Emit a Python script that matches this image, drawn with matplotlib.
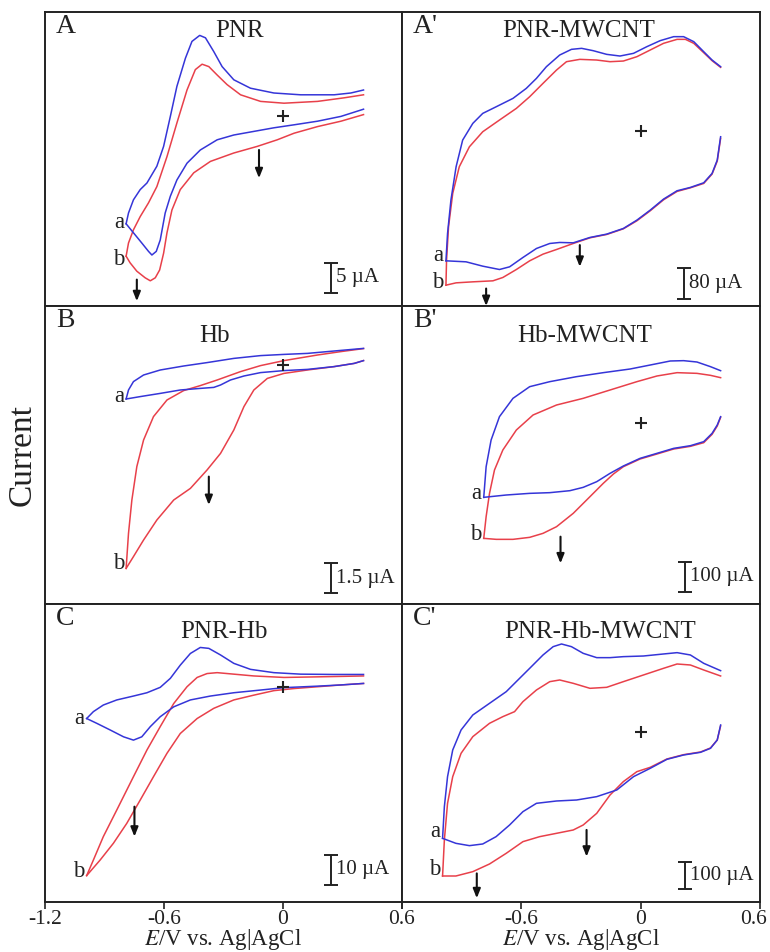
import matplotlib
matplotlib.use("Agg")
import matplotlib.pyplot as plt
from matplotlib.transforms import ScaledTranslation

plt.rcParams['font.family'] = ['Liberation Serif', 'DejaVu Serif']
plt.rcParams['mathtext.fontset'] = 'stix'

BLUE = '#3535d8'
RED = '#e8404a'
INK = '#222222'

# ---------------- A : PNR ----------------
pnr_a_up_E = [-0.791, -0.779, -0.754, -0.720, -0.686, -0.636, -0.602, -0.568, -0.535, -0.492, -0.459,
              -0.420, -0.391, -0.349, -0.307, -0.248, -0.164, -0.046, 0.089, 0.258, 0.342, 0.406]
pnr_a_up_I = [-17.9, -16.1, -13.9, -12.2, -11.1, -8.3, -5.0, 0.0, 5.0, 9.7, 12.5,
              13.5, 13.1, 10.8, 8.3, 6.1, 4.7, 3.9, 3.6, 3.6, 3.9, 4.4]
pnr_a_dn_E = [-0.791, -0.754, -0.712, -0.678, -0.661, -0.639, -0.619, -0.594, -0.568, -0.535, -0.484,
              -0.417, -0.332, -0.248, -0.147, -0.046, 0.056, 0.174, 0.292, 0.406]
pnr_a_dn_I = [-17.9, -19.4, -21.1, -22.5, -23.1, -22.5, -20.6, -16.1, -13.3, -10.6, -7.8,
              -5.6, -3.9, -3.1, -2.5, -1.9, -1.4, -0.8, 0.0, 1.2]
pnr_b_up_E = [-0.791, -0.779, -0.754, -0.720, -0.678, -0.636, -0.585, -0.535, -0.484, -0.442, -0.408,
              -0.374, -0.332, -0.282, -0.214, -0.113, 0.005, 0.174, 0.309, 0.406]
pnr_b_up_I = [-23.3, -21.1, -18.9, -16.7, -14.4, -11.7, -6.7, -1.1, 4.4, 7.8, 8.7,
              8.3, 6.9, 5.3, 3.6, 2.5, 2.2, 2.5, 3.1, 3.6]
pnr_b_dn_E = [-0.791, -0.771, -0.737, -0.695, -0.669, -0.644, -0.622, -0.602, -0.585, -0.560, -0.518,
              -0.450, -0.366, -0.248, -0.130, -0.029, 0.056, 0.174, 0.292, 0.406]
pnr_b_dn_I = [-23.3, -24.4, -25.8, -26.9, -27.4, -26.9, -25.6, -22.8, -19.4, -15.6, -12.2,
              -9.4, -7.5, -6.1, -5.0, -3.9, -2.8, -1.7, -0.8, 0.3]

# ---------------- A' : PNR-MWCNT ----------------
pnrc_a_up_E = [-0.979, -0.971, -0.954, -0.928, -0.895, -0.844, -0.794, -0.726, -0.642, -0.575, -0.524,
               -0.474, -0.407, -0.348, -0.297, -0.239, -0.171, -0.104, -0.036, 0.031, 0.098, 0.166,
               0.216, 0.267, 0.317, 0.359, 0.402]
pnrc_a_up_I = [-334.5, -264.0, -178.0, -92.0, -23.2, 19.8, 45.6, 62.8, 84.3, 110.1, 135.9,
               166.0, 196.1, 210.7, 213.3, 207.3, 197.8, 193.5, 200.4, 217.6, 233.1, 243.4,
               243.4, 230.5, 204.7, 183.2, 166.0]
pnrc_a_dn_E = [-0.979, -0.878, -0.794, -0.710, -0.659, -0.592, -0.524, -0.457, -0.407, -0.339, -0.255,
               -0.171, -0.087, -0.019, 0.048, 0.115, 0.183, 0.250, 0.317, 0.359, 0.385, 0.402]
pnrc_a_dn_I = [-334.5, -337.1, -348.3, -356.9, -350.0, -325.9, -302.7, -289.8, -287.2, -288.1, -274.3,
               -265.7, -251.1, -229.6, -203.8, -175.4, -153.9, -145.3, -133.3, -109.2, -74.8, -14.6]
pnrc_b_up_E = [-0.979, -0.976, -0.966, -0.945, -0.912, -0.861, -0.794, -0.710, -0.625, -0.558, -0.491,
               -0.423, -0.373, -0.306, -0.222, -0.154, -0.087, -0.019, 0.048, 0.115, 0.183, 0.225,
               0.267, 0.317, 0.359, 0.402]
pnrc_b_up_I = [-397.3, -332.8, -246.8, -160.8, -92.0, -40.4, -1.7, 28.4, 58.5, 88.6, 123.0,
               157.4, 178.9, 184.9, 183.2, 178.9, 180.6, 191.8, 209.0, 226.2, 236.5, 236.5,
               226.2, 202.1, 181.5, 164.3]
pnrc_b_dn_E = [-0.979, -0.928, -0.844, -0.743, -0.693, -0.625, -0.558, -0.491, -0.423, -0.339, -0.255,
               -0.171, -0.087, -0.019, 0.048, 0.115, 0.183, 0.250, 0.317, 0.359, 0.385, 0.402]
pnrc_b_dn_I = [-397.3, -391.3, -388.7, -386.1, -377.5, -356.9, -334.5, -317.3, -305.3, -289.8, -275.2,
               -266.6, -252.0, -231.3, -205.5, -177.2, -155.6, -146.2, -135.0, -110.9, -77.4, -18.9]

# ---------------- B : Hb ----------------
hb_a_up_E = [-0.791, -0.779, -0.754, -0.703, -0.619, -0.501, -0.383, -0.248, -0.113, 0.005, 0.123, 0.258, 0.406]
hb_a_up_I = [-1.70, -1.25, -0.83, -0.50, -0.25, -0.05, 0.12, 0.33, 0.47, 0.53, 0.58, 0.70, 0.83]
hb_a_dn_E = [-0.791, -0.720, -0.619, -0.518, -0.417, -0.349, -0.315, -0.265, -0.197, -0.113, 0.005,
             0.123, 0.258, 0.359, 0.406]
hb_a_dn_I = [-1.70, -1.58, -1.42, -1.25, -1.17, -1.12, -1.00, -0.75, -0.55, -0.38, -0.28,
             -0.22, -0.08, 0.08, 0.22]
hb_b_up_E = [-0.791, -0.779, -0.762, -0.737, -0.703, -0.653, -0.585, -0.501, -0.417, -0.332, -0.214,
             -0.113, 0.005, 0.174, 0.292, 0.406]
hb_b_up_I = [-10.17, -8.42, -6.75, -5.08, -3.75, -2.58, -1.75, -1.28, -1.03, -0.75, -0.33,
             -0.03, 0.22, 0.50, 0.67, 0.82]
hb_b_dn_E = [-0.791, -0.754, -0.703, -0.636, -0.551, -0.467, -0.383, -0.315, -0.248, -0.197, -0.147,
             -0.079, 0.005, 0.123, 0.258, 0.359, 0.406]
hb_b_dn_I = [-10.17, -9.58, -8.75, -7.75, -6.75, -6.17, -5.25, -4.42, -3.25, -2.08, -1.25,
             -0.67, -0.42, -0.25, -0.08, 0.08, 0.22]

# ---------------- B' : Hb-MWCNT ----------------
hbc_a_up_E = [-0.789, -0.777, -0.752, -0.710, -0.642, -0.558, -0.457, -0.323, -0.188, -0.053, 0.048,
              0.149, 0.216, 0.283, 0.351, 0.402]
hbc_a_up_I = [-248.9, -146.7, -57.8, 20.0, 81.1, 120.0, 136.7, 153.3, 166.7, 178.9, 192.2,
              205.6, 206.7, 202.2, 186.7, 173.3]
hbc_a_dn_E = [-0.789, -0.676, -0.558, -0.457, -0.356, -0.289, -0.221, -0.154, -0.087, -0.003, 0.082,
              0.166, 0.250, 0.317, 0.359, 0.385, 0.402]
hbc_a_dn_I = [-248.9, -241.1, -235.6, -233.3, -226.7, -215.6, -196.7, -168.9, -144.4, -118.9, -102.2,
              -85.6, -76.7, -63.3, -35.6, -7.8, 20.0]
hbc_b_up_E = [-0.789, -0.777, -0.760, -0.735, -0.693, -0.625, -0.541, -0.423, -0.289, -0.154, -0.019,
              0.082, 0.183, 0.283, 0.351, 0.402]
hbc_b_up_I = [-385.6, -313.3, -235.6, -157.8, -91.1, -24.4, 25.6, 58.9, 81.1, 108.9, 136.7,
              155.6, 166.7, 164.4, 157.8, 150.0]
hbc_b_dn_E = [-0.789, -0.726, -0.642, -0.558, -0.491, -0.423, -0.339, -0.255, -0.188, -0.137, -0.087,
              -0.003, 0.082, 0.166, 0.250, 0.317, 0.359, 0.385, 0.402]
hbc_b_dn_I = [-385.6, -388.9, -388.9, -382.2, -368.9, -346.7, -302.2, -246.7, -202.2, -171.1, -146.7,
              -121.1, -104.4, -87.8, -78.9, -66.7, -38.9, -11.1, 17.8]

# ---------------- C : PNR-Hb ----------------
pnrhb_a_up_E = [-0.990, -0.956, -0.906, -0.838, -0.754, -0.686, -0.619, -0.568, -0.518, -0.467, -0.417,
                -0.374, -0.315, -0.248, -0.164, -0.046, 0.089, 0.258, 0.406]
pnrhb_a_up_I = [-10.6, -8.3, -6.1, -4.4, -3.1, -2.0, -0.2, 2.8, 7.2, 11.1, 13.1,
                12.8, 10.6, 7.8, 5.8, 4.7, 4.2, 4.1, 4.1]
pnrhb_a_dn_E = [-0.990, -0.939, -0.872, -0.804, -0.754, -0.712, -0.669, -0.619, -0.551, -0.467, -0.366,
                -0.248, -0.113, 0.005, 0.174, 0.292, 0.406]
pnrhb_a_dn_I = [-10.6, -12.2, -14.4, -16.7, -17.8, -16.7, -13.3, -10.0, -6.7, -4.4, -3.1,
                -2.0, -1.1, -0.3, 0.2, 0.6, 1.1]
pnrhb_b_up_E = [-0.990, -0.956, -0.906, -0.838, -0.754, -0.686, -0.619, -0.551, -0.484, -0.433, -0.383,
                -0.332, -0.248, -0.147, 0.005, 0.174, 0.406]
pnrhb_b_up_I = [-63.0, -57.8, -50.0, -41.1, -30.0, -21.1, -13.3, -5.6, 0.0, 3.1, 4.4,
                4.7, 4.2, 3.6, 3.1, 3.3, 3.6]
pnrhb_b_dn_E = [-0.990, -0.922, -0.855, -0.788, -0.720, -0.653, -0.585, -0.518, -0.433, -0.349, -0.248,
                -0.147, -0.046, 0.056, 0.174, 0.292, 0.406]
pnrhb_b_dn_I = [-63.0, -57.8, -52.2, -45.6, -37.8, -30.0, -22.2, -15.6, -10.6, -7.2, -4.4,
                -2.8, -1.3, -0.6, 0.0, 0.6, 1.1]

# ---------------- C' : PNR-Hb-MWCNT ----------------
pnrhbc_a_up_E = [-0.996, -0.987, -0.971, -0.945, -0.903, -0.844, -0.760, -0.676, -0.617, -0.558, -0.491,
                 -0.440, -0.398, -0.348, -0.289, -0.221, -0.154, -0.087, 0.014, 0.115, 0.183, 0.250,
                 0.317, 0.402]
pnrhbc_a_up_I = [-395.1, -277.8, -166.7, -67.9, 6.2, 61.7, 104.9, 148.1, 191.4, 234.6, 284.0,
                 314.8, 324.7, 314.8, 290.1, 274.1, 274.1, 277.8, 280.2, 287.7, 292.6, 284.0,
                 253.1, 225.9]
pnrhbc_a_dn_E = [-0.996, -0.929, -0.861, -0.794, -0.727, -0.659, -0.592, -0.524, -0.423, -0.322, -0.221,
                 -0.120, -0.036, 0.048, 0.132, 0.216, 0.301, 0.351, 0.385, 0.402]
pnrhbc_a_dn_I = [-395.1, -413.6, -422.2, -416.0, -388.9, -345.7, -296.3, -265.4, -256.8, -253.1, -240.7,
                 -216.0, -166.7, -135.8, -102.5, -86.4, -76.5, -61.7, -30.9, 24.7]
pnrhbc_b_up_E = [-0.996, -0.987, -0.971, -0.945, -0.903, -0.844, -0.760, -0.693, -0.634, -0.592, -0.524,
                 -0.457, -0.407, -0.339, -0.255, -0.171, -0.087, 0.014, 0.115, 0.183, 0.250, 0.317,
                 0.402]
pnrhbc_b_up_I = [-534.6, -401.2, -265.4, -166.7, -80.2, -18.5, 30.9, 55.6, 74.1, 111.1, 154.3,
                 185.2, 191.4, 179.0, 160.5, 164.2, 185.2, 209.9, 234.6, 250.6, 246.9, 228.4,
                 206.2]
pnrhbc_b_dn_E = [-0.996, -0.929, -0.844, -0.760, -0.676, -0.592, -0.508, -0.423, -0.339, -0.289, -0.221,
                 -0.154, -0.087, -0.019, 0.048, 0.132, 0.216, 0.301, 0.351, 0.385, 0.402]
pnrhbc_b_dn_I = [-534.6, -534.6, -518.5, -490.1, -450.6, -407.4, -388.9, -376.5, -364.2, -345.7, -302.5,
                 -234.6, -185.0, -148.1, -132.1, -101.2, -85.2, -75.3, -60.5, -30.9, 21.0]

e_ticks = [-1.2, -0.6, 0, 0.6]
e_labels_left = ['-1.2', '-0.6', '0', '0.6']
e_labels_right = ['', '-0.6', '0', '0.6']

# ---------------- panel set-up ----------------
W, H = 770, 952
cols = [(45, 402), (402, 760)]
rows = [(12, 306), (306, 604), (604, 902)]

panels = [
    dict(letter='A', title='PNR', r=0, c=0, ylim=(-31.6, 17.4),
         curves=[(pnr_a_up_E, pnr_a_up_I, pnr_a_dn_E, pnr_a_dn_I),
                 (pnr_b_up_E, pnr_b_up_I, pnr_b_dn_E, pnr_b_dn_I)],
         lab_a=(-0.80, -17.7), lab_b=(-0.80, -23.9),
         arrows=[(-0.121, -5.6, -10.3), (-0.737, -27.2, -30.8)],
         bar=(0.241, -26.9, 5, '5 µA'), tpos=(0.546, 0.935)),
    dict(letter="A'", title='PNR-MWCNT', r=0, c=1, ylim=(-451.0, 307.0),
         curves=[(pnrc_a_up_E, pnrc_a_up_I, pnrc_a_dn_E, pnrc_a_dn_I),
                 (pnrc_b_up_E, pnrc_b_up_I, pnrc_b_dn_E, pnrc_b_dn_I)],
         lab_a=(-0.99, -320), lab_b=(-0.99, -391),
         arrows=[(-0.306, -294, -350), (-0.777, -406, -451)],
         bar=(0.216, -393, 80, '80 µA'), tpos=(0.493, 0.935)),
    dict(letter='B', title='Hb', r=1, c=0, ylim=(-11.95, 2.95),
         curves=[(hb_a_up_E, hb_a_up_I, hb_a_dn_E, hb_a_dn_I),
                 (hb_b_up_E, hb_b_up_I, hb_b_dn_E, hb_b_dn_I)],
         lab_a=(-0.80, -1.58), lab_b=(-0.80, -9.92),
         arrows=[(-0.374, -5.58, -7.0)],
         bar=(0.241, -10.67, 1.5, '1.5 µA'), tpos=(0.476, 0.90)),
    dict(letter="B'", title='Hb-MWCNT', r=1, c=1, ylim=(-604.4, 388.9),
         curves=[(hbc_a_up_E, hbc_a_up_I, hbc_a_dn_E, hbc_a_dn_I),
                 (hbc_b_up_E, hbc_b_up_I, hbc_b_dn_E, hbc_b_dn_I)],
         lab_a=(-0.80, -235.6), lab_b=(-0.80, -374),
         arrows=[(-0.403, -380, -469)],
         bar=(0.225, -513, 100, '100 µA'), tpos=(0.51, 0.90)),
    dict(letter='C', title='PNR-Hb', r=2, c=0, ylim=(-71.8, 27.6),
         curves=[(pnrhb_a_up_E, pnrhb_a_up_I, pnrhb_a_dn_E, pnrhb_a_dn_I),
                 (pnrhb_b_up_E, pnrhb_b_up_I, pnrhb_b_dn_E, pnrhb_b_dn_I)],
         lab_a=(-1.00, -10.6), lab_b=(-1.00, -61.7),
         arrows=[(-0.749, -40, -50)],
         bar=(0.241, -61.1, 10, '10 µA'), tpos=(0.50, 0.905)),
    dict(letter="C'", title='PNR-Hb-MWCNT', r=2, c=1, ylim=(-630.9, 472.8),
         curves=[(pnrhbc_a_up_E, pnrhbc_a_up_I, pnrhbc_a_dn_E, pnrhbc_a_dn_I),
                 (pnrhbc_b_up_E, pnrhbc_b_up_I, pnrhbc_b_dn_E, pnrhbc_b_dn_I)],
         lab_a=(-1.005, -370), lab_b=(-1.005, -510),
         arrows=[(-0.272, -364, -463), (-0.824, -525, -617)],
         bar=(0.225, -531, 100, '100 µA'), tpos=(0.552, 0.905)),
]

fig = plt.figure(figsize=(W / 100, H / 100), dpi=100)

for p in panels:
    x0, x1 = cols[p['c']]
    y0, y1 = rows[p['r']]
    ax = fig.add_axes([x0 / W, 1 - y1 / H, (x1 - x0) / W, (y1 - y0) / H])
    ax.set_xlim(-1.2, 0.6)
    ax.set_ylim(*p['ylim'])
    for s in ax.spines.values():
        s.set_color(INK)
        s.set_linewidth(1.4)
    ax.set_yticks([])
    if p['r'] == 2:
        ax.set_xticks(e_ticks)
        ax.set_xticklabels(e_labels_left if p['c'] == 0 else e_labels_right)
        ax.tick_params(axis='x', direction='out', length=5, width=1.2, labelsize=15.5, pad=1,
                       colors=INK)
        if p['c'] == 1:
            lbl = ax.get_xticklabels()[-1]
            lbl.set_transform(lbl.get_transform() + ScaledTranslation(-5 / 72, 0, fig.dpi_scale_trans))
        fig.text((x0 + x1) / 2 / W, 1 - 940 / H, '$\\it{E}$/V vs. Ag|AgCl', fontsize=16.5,
                 ha='center', va='center', color=INK)
    else:
        ax.set_xticks([])

    (aue, aui, ade, adi), (bue, bui, bde, bdi) = p['curves']
    ax.plot(bue, bui, color=RED, lw=1.1)
    ax.plot(bde, bdi, color=RED, lw=1.1)
    ax.plot(aue, aui, color=BLUE, lw=1.1)
    ax.plot(ade, adi, color=BLUE, lw=1.1)

    ax.text(*p['lab_a'], 'a', fontsize=16.5, ha='right', va='center', color=INK)
    ax.text(*p['lab_b'], 'b', fontsize=16.5, ha='right', va='center', color=INK)

    ax.plot(0, 0, marker='+', ms=9, mew=1.5, color=INK)

    for ex, ys, ye in p['arrows']:
        ax.annotate('', xy=(ex, ye), xytext=(ex, ys),
                    arrowprops=dict(arrowstyle='-|>,head_width=0.22,head_length=0.55',
                                    color='#111111', lw=1.5, shrinkA=0, shrinkB=0))

    bx, by, blen, btxt = p['bar']
    ax.errorbar([bx], [by], yerr=[blen / 2], color=INK, capsize=5, elinewidth=1.4,
                capthick=1.4, fmt='none')
    ax.text(bx + 0.025, by, btxt, fontsize=15, ha='left', va='center', color=INK)

    ax.text(0.03, 0.95, p['letter'], transform=ax.transAxes, fontsize=20, ha='left',
            va='center', color=INK)
    ax.text(p['tpos'][0], p['tpos'][1], p['title'], transform=ax.transAxes, fontsize=18,
            ha='center', va='center', color=INK)

fig.text(22 / W, 1 - 455 / H, 'Current', rotation=90, fontsize=24, ha='center', va='center',
         color=INK)

fig.savefig('out.png', dpi=100)
